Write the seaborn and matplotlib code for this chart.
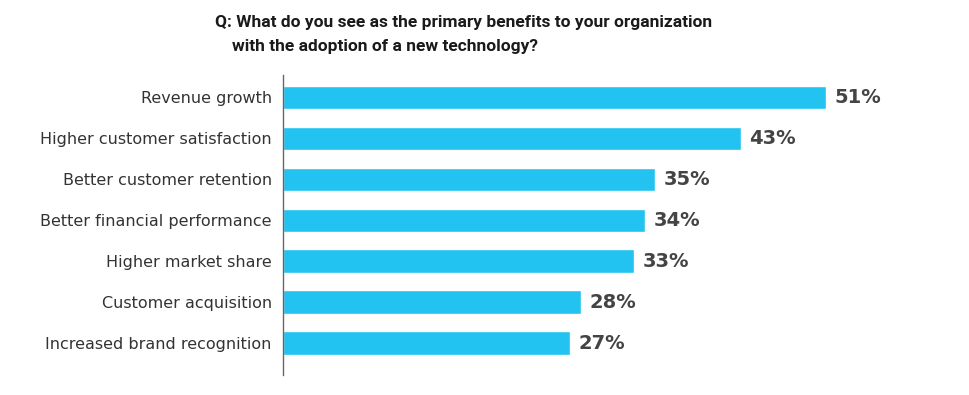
import matplotlib
matplotlib.use("Agg")
import matplotlib.pyplot as plt
import seaborn as sns
import pandas as pd

categories = [
    "Revenue growth",
    "Higher customer satisfaction",
    "Better customer retention",
    "Better financial performance",
    "Higher market share",
    "Customer acquisition",
    "Increased brand recognition",
]
values = [51, 43, 35, 34, 33, 28, 27]
value_labels = ["51%", "43%", "35%", "34%", "33%", "28%", "27%"]

title_lines = ["Q: What do you see as the primary benefits to your organization",
               "with the adoption of a new technology?"]

sns.set_style("white")
plt.rcParams['font.family'] = ['DejaVu Sans']

df = pd.DataFrame({"benefit": categories, "pct": values})

fig = plt.figure(figsize=(9.69, 3.95), dpi=100)
ax = fig.add_axes([0.292, 0.0506, 0.659, 0.759])

sns.barplot(data=df, y="benefit", x="pct", orient="h", color="#22c3f1",
            saturation=1, width=0.57, ax=ax)

ax.set_xlim(0, 60)
ax.set_ylim(6.78, -0.54)
ax.set_xlabel(""); ax.set_ylabel("")
ax.set_xticks([])
ax.tick_params(axis="y", length=0, pad=8, labelsize=11.5, labelcolor="#333333")
for s in ["top", "right", "bottom"]:
    ax.spines[s].set_visible(False)
ax.spines["left"].set_color("#666666")
ax.spines["left"].set_linewidth(1.0)

for i, (v, lab) in enumerate(zip(values, value_labels)):
    ax.text(v + 0.8, i, lab, va="center", ha="left", fontsize=14,
            fontweight="bold", color="#444444")

tfont = ['Liberation Sans Narrow', 'Roboto', 'DejaVu Sans']
fig.text(215 / 969, 1 - 22 / 395, title_lines[0], ha="left", va="center",
         fontsize=12.5, family=tfont, fontweight="bold", color="#1a1a1a")
fig.text(232 / 969, 1 - 46 / 395, title_lines[1], ha="left", va="center",
         fontsize=12.5, family=tfont, fontweight="bold", color="#1a1a1a")

fig.savefig("out.png", dpi=100)
